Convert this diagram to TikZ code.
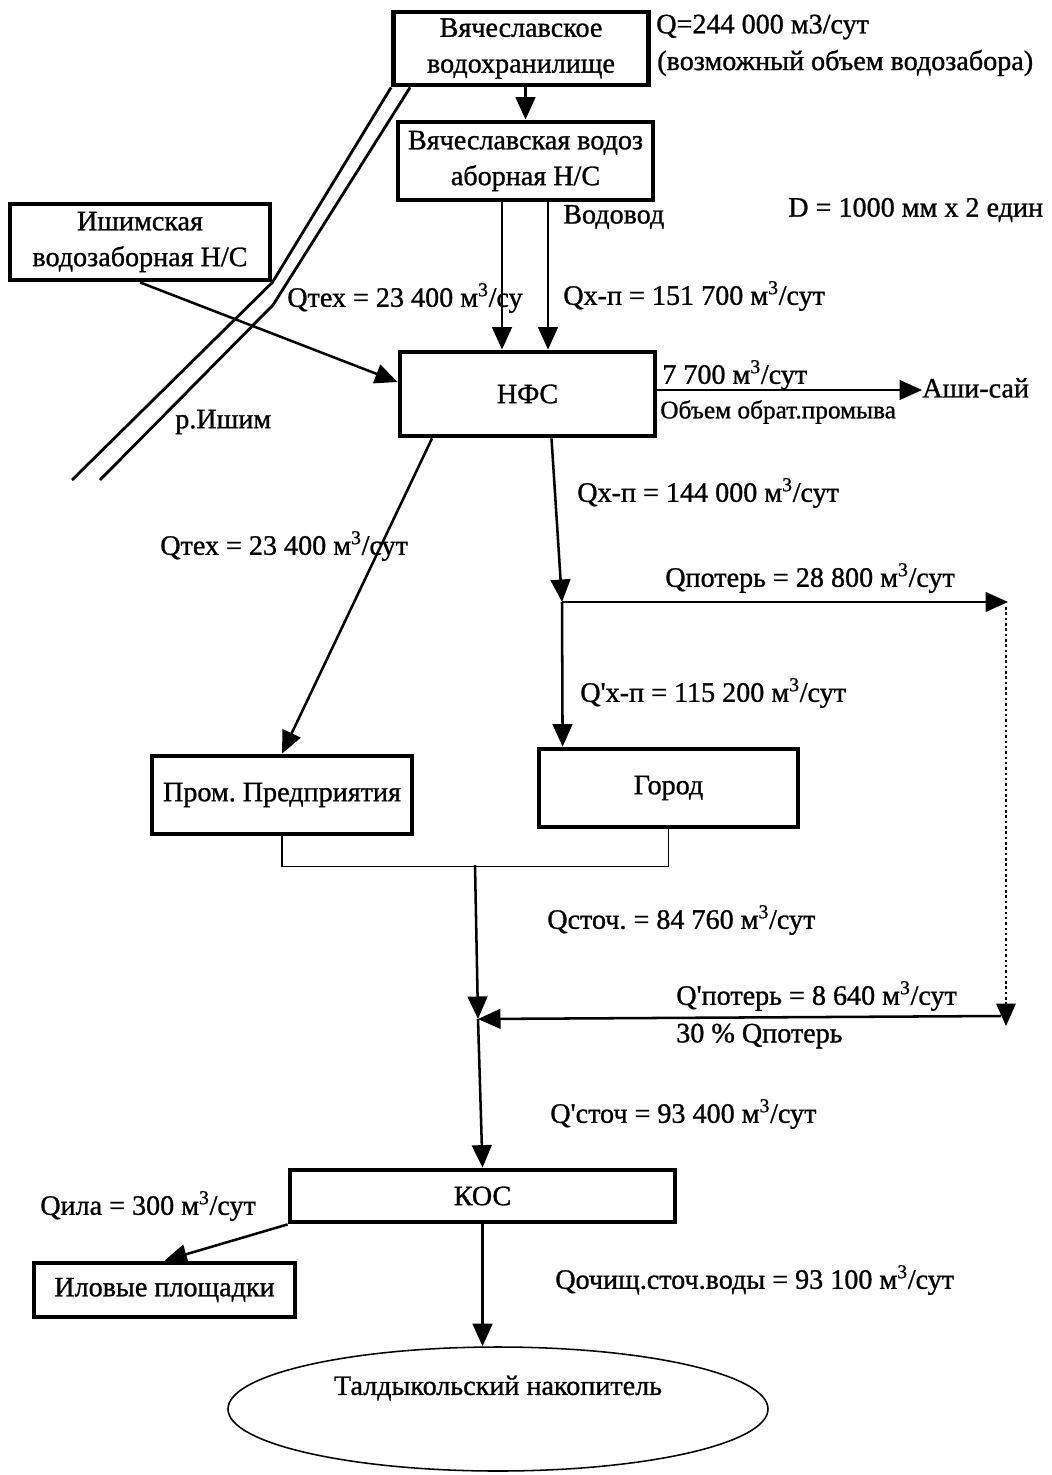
\documentclass[tikz,border=0pt]{standalone}
\usepackage{fontspec}
\setmainfont{Liberation Serif}[FakeBold=1]
\usepackage{tikz}
\usetikzlibrary{arrows.meta, calc, shapes.geometric}
\newcommand{\msut}{м\textsuperscript{3}/сут}
\newcommand{\apos}{\textquotesingle}
\tikzset{
  box/.style={draw, line width=3.4pt, align=center, inner sep=2pt,
              font=\fontsize{20}{25.5}\selectfont},
  pond/.style={draw, ellipse, line width=1.1pt, inner sep=0pt},
  lbl/.style={font=\fontsize{20}{25}\selectfont, anchor=west, inner sep=0pt},
  arr/.style={-{Triangle[length=16pt, width=14pt]}, line width=1.8pt},
  river/.style={line width=2pt},
  bus/.style={line width=0.8pt},
}

\begin{document}
\begin{tikzpicture}[x=0.25mm, y=-0.25mm]
  \useasboundingbox (0,0) rectangle (1051,1475);
  % stations
  \node[box, minimum width=63.75mm, minimum height=18.25mm] (resv) at (521,48.5) {Вячеславское\\водохранилище};
  \node[box, minimum width=63.75mm, minimum height=19.5mm] (pump1) at (525.5,161) {Вячеславская водоз\\аборная Н/С};
  \node[box, minimum width=65mm, minimum height=19mm] (ishim) at (140,242) {Ишимская\\водозаборная Н/С};
  \node[box, minimum width=63.75mm, minimum height=21mm] (nfs) at (527.5,394) {НФС};
  \node[box, minimum width=65mm, minimum height=19.5mm] (prom) at (282,795) {Пром.\ Предприятия};
  \node[box, minimum width=64.75mm, minimum height=19.5mm] (gorod) at (668.5,788) {Город};
  \node[box, minimum width=96.25mm, minimum height=13mm] (kos) at (482.5,1196) {КОС};
  \node[box, minimum width=65.25mm, minimum height=13.5mm] (ilov) at (164.5,1290) {Иловые площадки};
  \node[pond, minimum width=135mm, minimum height=31mm] (tald) at (498,1409) {};
  \node[lbl, anchor=center] (taldlbl) at (498,1388) {Талдыкольский накопитель};
  % river
  \draw[river] (resv.south west) -- (ishim.south east) -- (72,480);
  \draw[river] ($(resv.south west)+(19,0)$) -- (273,305) -- (100,480);
  \node[lbl] (rishim) at (175,422) {р.Ишим};
  % intake
  \node[lbl] (q244) at (656,27) {Q=244 000 м3/сут};
  \node[lbl] (qposs) at (657,63) {(возможный объем водозабора)};
  \draw[arr] (pump1.north |- resv.south) -- (pump1.north);
  % water mains
  \coordinate (wl) at ($(pump1.south)+(-23.5,0)$);
  \coordinate (wr) at ($(pump1.south)+(22.5,0)$);
  \draw[arr] (wl) -- (wl |- nfs.north);
  \draw[arr] (wr) -- (wr |- nfs.north);
  \node[lbl] (vodovod) at (563,217) {Водовод};
  \node[lbl] (diam) at (788,210) {D = 1000 мм х 2 един};
  \node[lbl] (qtex1) at (287,298) {Qтех = 23 400 м\textsuperscript{3}/су};
  \node[lbl] (qhp1) at (563,296) {Qх-п = 151 700 \msut};
  \draw[arr] (ishim.south) -- ($(nfs.west)+(0,-12)$);
  % backwash
  \node[lbl] (ashi) at (922,388) {Аши-сай};
  \coordinate (wash) at ($(nfs.east)+(0,-4)$);
  \draw[arr] (wash) -- (wash -| ashi.west);
  \node[lbl] (q7700) at (662,375) {7 700 \msut};
  \node[lbl, font=\fontsize{18}{22}\selectfont] (obrat) at (660,412) {Объем обрат.промыва};
  % distribution
  \draw[arr] ($(nfs.south)+(-95.5,0)$) -- (prom.north);
  \node[lbl] (qtex2) at (160,546) {Qтех = 23 400 \msut};
  \coordinate (split) at (562,602);
  \draw[arr] ($(nfs.south)+(24,0)$) -- (split);
  \node[lbl] (qhp2) at (577,493) {Qх-п = 144 000 \msut};
  \coordinate (lossR) at (1008,602);
  \draw[arr] (split) -- (lossR);
  \node[lbl] (qloss) at (665,578) {Qпотерь = 28 800 \msut};
  \draw[arr] (split) -- ($(gorod.north west)+(26,0)$);
  \node[lbl] (qhp3) at (580,693) {Q\apos х-п = 115 200 \msut};
  % losses return
  \coordinate (lossD) at (1006,1026);
  \draw[arr, dotted, line width=1pt] ($(lossD |- lossR)+(0,5)$) -- (lossD);
  \coordinate (ret) at (1001,1016);
  \coordinate (mix) at (478,1019);
  \draw[arr] (ret) -- (mix);
  \node[lbl] (qloss2) at (676,996) {Q\apos потерь = 8 640 \msut};
  \node[lbl] (pct) at (676,1036) {30 \% Qпотерь};
  % sewage
  \coordinate (bus) at (475,865);
  \draw[bus] (prom.south) -- ++(0,30) -| (gorod.south);
  \draw[arr] (bus) -- (mix);
  \node[lbl] (qstoch) at (547,920) {Qсточ.\ = 84 760 \msut};
  \draw[arr] (mix) -- (kos.north);
  \node[lbl] (qstoch2) at (550,1114) {Q\apos сточ = 93 400 \msut};
  % treatment outputs
  \draw[arr] (kos.south west) -- (ilov.north);
  \node[lbl] (qila) at (40,1206) {Qила = 300 \msut};
  \draw[arr] (kos.south) -- (kos.south |- tald.north);
  \node[lbl] (qclean) at (555,1280) {Qочищ.сточ.воды = 93 100 \msut};
\end{tikzpicture}
\end{document}
